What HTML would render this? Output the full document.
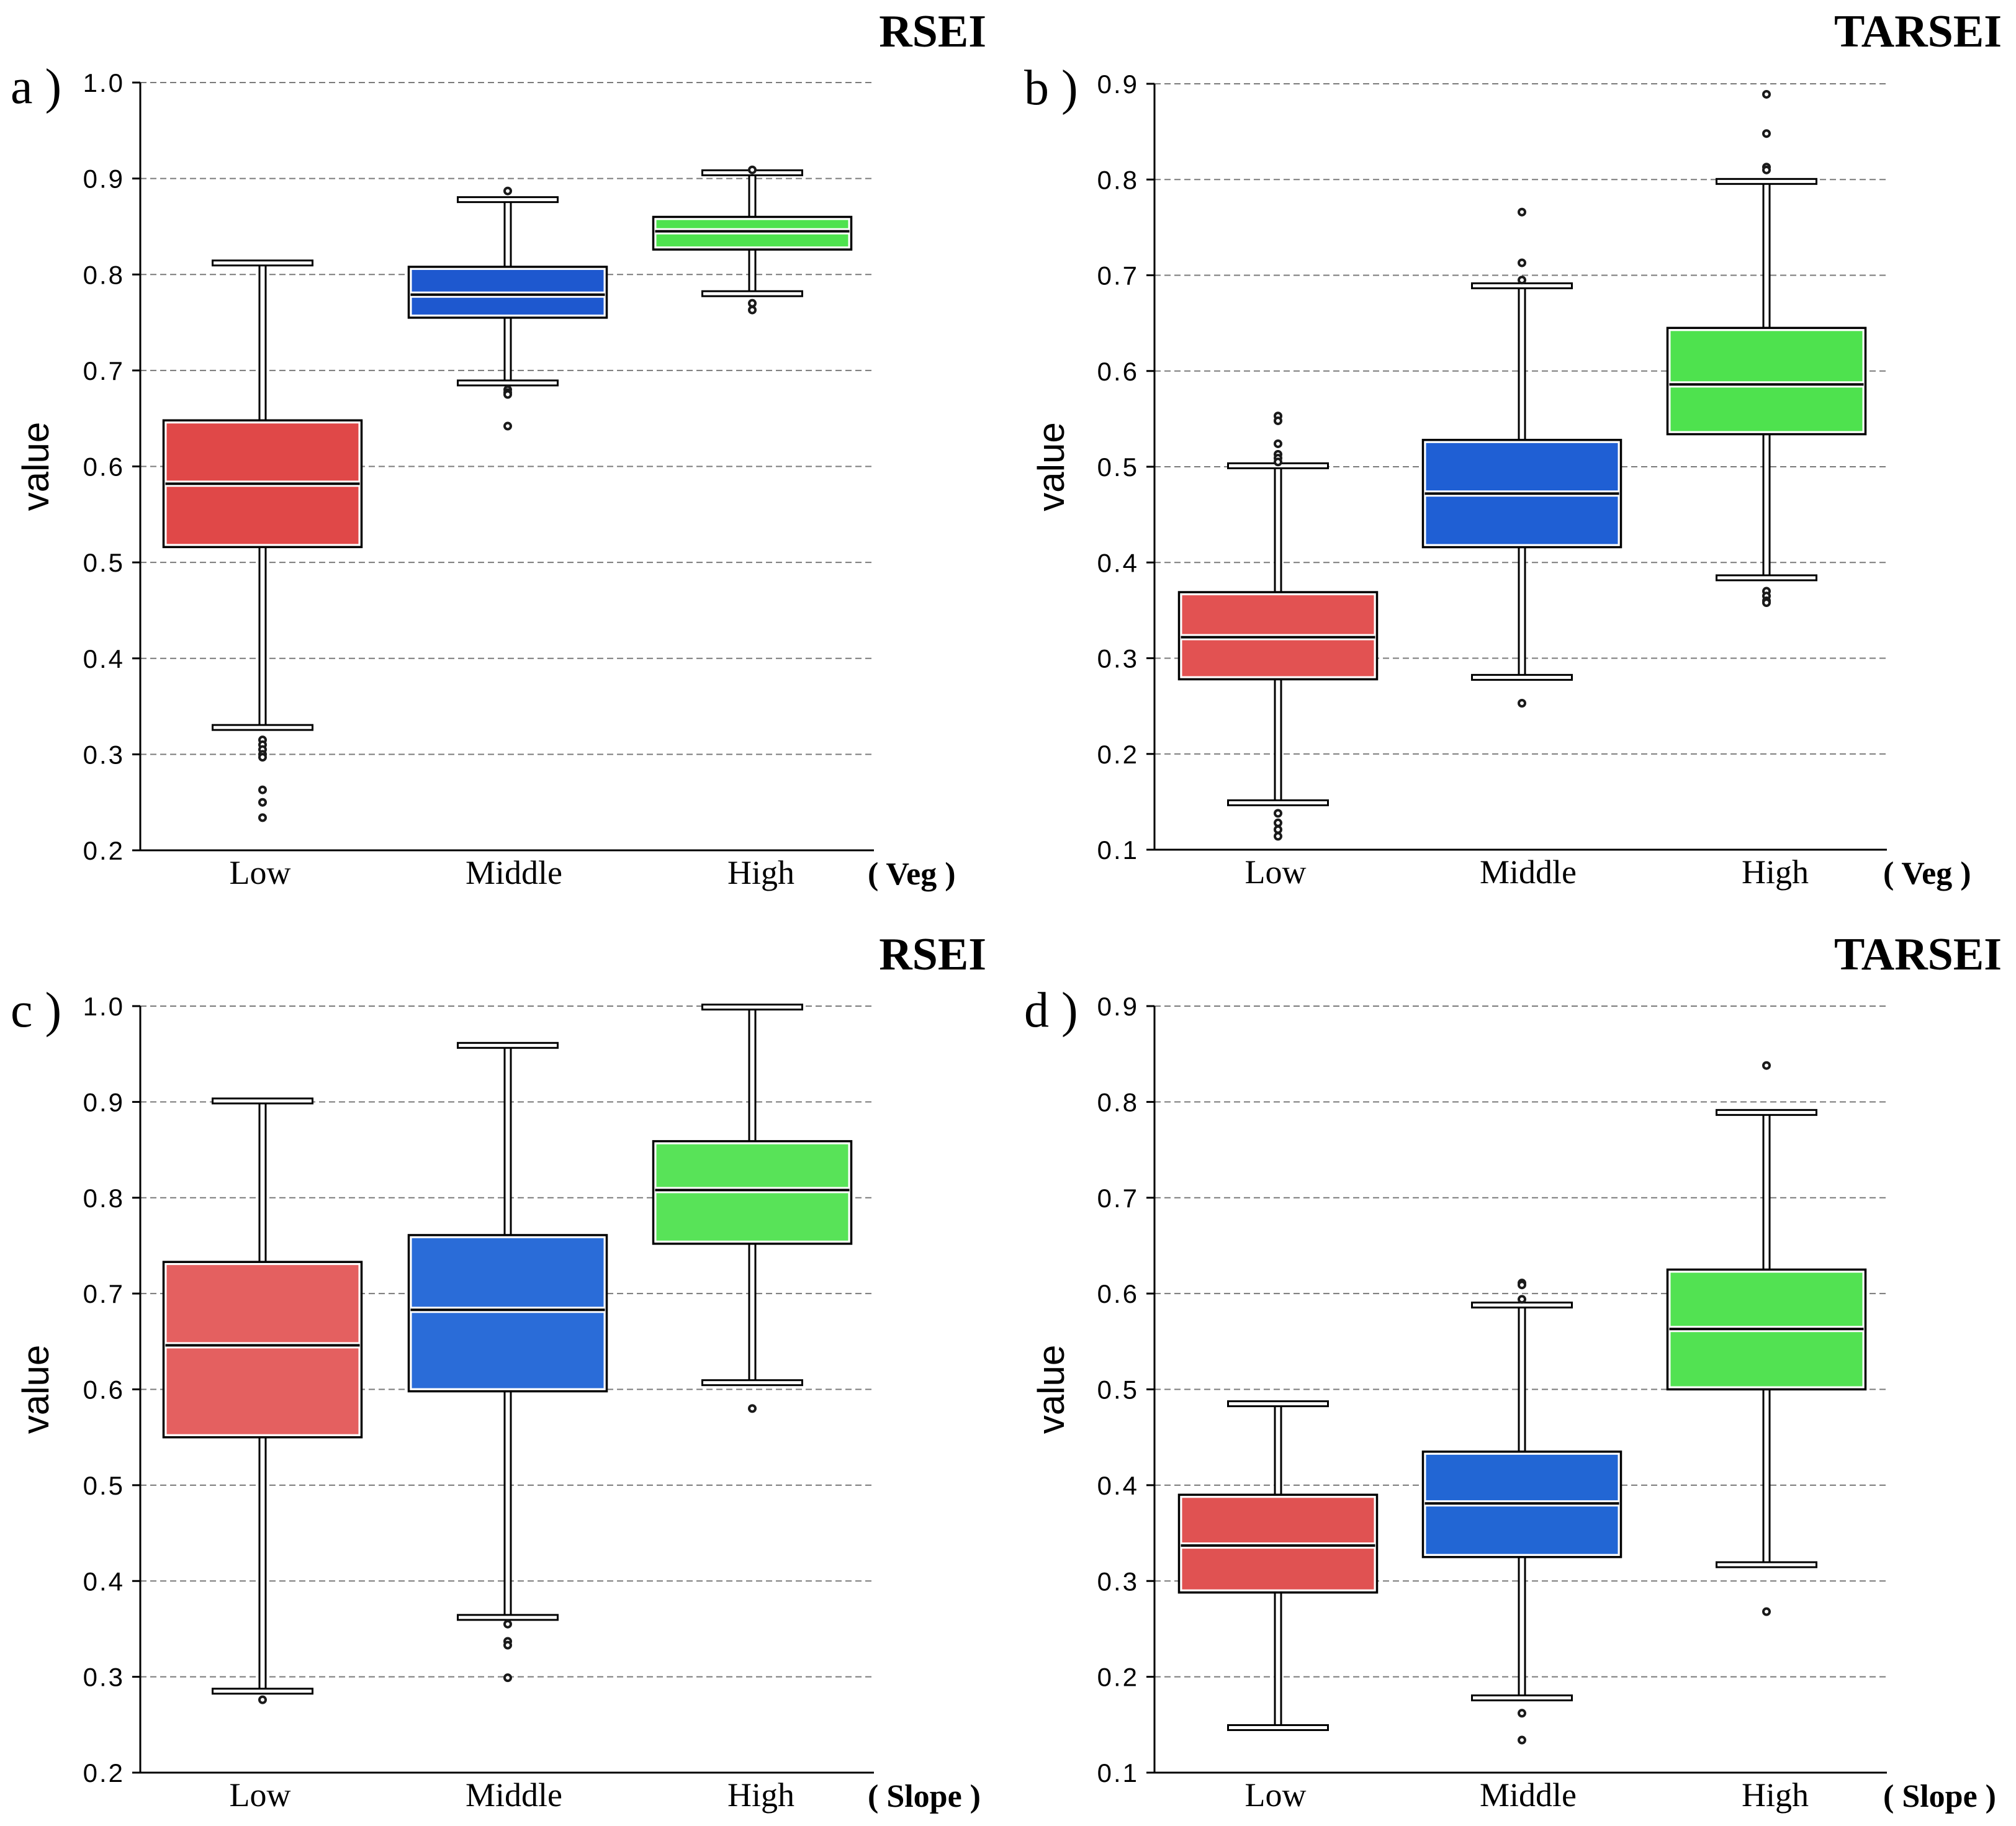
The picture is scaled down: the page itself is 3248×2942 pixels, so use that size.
<!DOCTYPE html>
<html><head><meta charset="utf-8">
<style>
html,body{margin:0;padding:0;background:#fff;}
svg{display:block;}
</style></head>
<body>
<svg id="chart" width="3248" height="2942" viewBox="0 0 3248 2942" xmlns="http://www.w3.org/2000/svg"></svg>
<script>
// ---- data ----
const categories = ["Low", "Middle", "High"];
// panel a: RSEI by Veg  [whiskerLow, Q1, median, Q3, whiskerHigh]
const statsA = [[0.328,0.516,0.582,0.648,0.812],[0.687,0.755,0.779,0.808,0.878],[0.780,0.826,0.845,0.860,0.906]];
const outliersA = [[0.315,0.310,0.305,0.300,0.297,0.263,0.250,0.234],[0.887,0.680,0.677,0.675,0.642],[0.909,0.770,0.763]];
// panel b: TARSEI by Veg
const statsB = [[0.149,0.278,0.322,0.369,0.501],[0.280,0.416,0.472,0.528,0.689],[0.384,0.534,0.586,0.645,0.798]];
const outliersB = [[0.553,0.548,0.524,0.513,0.509,0.505,0.138,0.128,0.121,0.114],[0.766,0.713,0.695,0.253],[0.889,0.848,0.813,0.810,0.370,0.365,0.360,0.358]];
// panel c: RSEI by Slope
const statsC = [[0.285,0.550,0.646,0.733,0.901],[0.362,0.598,0.683,0.761,0.959],[0.607,0.752,0.808,0.859,0.999]];
const outliersC = [[0.276],[0.355,0.337,0.333,0.299],[0.580]];
// panel d: TARSEI by Slope
const statsD = [[0.147,0.288,0.337,0.390,0.485],[0.178,0.325,0.381,0.435,0.588],[0.317,0.500,0.563,0.625,0.789]];
const outliersD = [[],[0.611,0.609,0.594,0.162,0.134],[0.838,0.268]];
const ticksRSEI = ["0.2","0.3","0.4","0.5","0.6","0.7","0.8","0.9","1.0"];
const ticksTARSEI = ["0.1","0.2","0.3","0.4","0.5","0.6","0.7","0.8","0.9"];

const NS="http://www.w3.org/2000/svg";
const svg=document.getElementById('chart');
function mk(tag,attrs,parent,text){const e=document.createElementNS(NS,tag);for(const k in attrs)e.setAttribute(k,attrs[k]);if(text!==undefined)e.textContent=text;(parent||svg).appendChild(e);return e;}

const labelShift=[-4,10,14];
const panels=[
 {id:'a',title:'RSEI',xl:'( Veg )',stats:statsA,outs:outliersA,ticks:ticksRSEI,x0:226,x1:1408,yTop:133,yBot:1370,cx:[423,818,1212],colors:['#e04848','#1e58cf','#4ee24e'],lab:17,titleR:1589,titleY:75,xlX:1398,valX:62},
 {id:'b',title:'TARSEI',xl:'( Veg )',stats:statsB,outs:outliersB,ticks:ticksTARSEI,x0:1860,x1:3040,yTop:135,yBot:1369,cx:[2059,2452,2846],colors:['#e25252','#1f5fd4','#4ee24e'],lab:1650,titleR:3225,titleY:75,xlX:3034,valX:1698},
 {id:'c',title:'RSEI',xl:'( Slope )',stats:statsC,outs:outliersC,ticks:ticksRSEI,x0:226,x1:1408,yTop:1621,yBot:2856,cx:[423,818,1212],colors:['#e46060','#2a6cd8','#58e358'],lab:17,titleR:1589,titleY:1562,xlX:1398,valX:62},
 {id:'d',title:'TARSEI',xl:'( Slope )',stats:statsD,outs:outliersD,ticks:ticksTARSEI,x0:1860,x1:3040,yTop:1621,yBot:2856,cx:[2059,2452,2846],colors:['#e05252','#2266d4','#52e252'],lab:1650,titleR:3225,titleY:1562,xlX:3034,valX:1698}
];

panels.forEach(p=>{
  const g=mk('g',{});
  
  
  const tmin=parseFloat(p.ticks[0]),tmax=parseFloat(p.ticks[p.ticks.length-1]);
  const y=v=>p.yBot-(v-tmin)/(tmax-tmin)*(p.yBot-p.yTop);
  p.ticks.forEach(t=>{
    const yy=y(parseFloat(t));
    if(parseFloat(t)>tmin){
      const gl=mk('line',{x1:p.x0,x2:p.x1,y1:yy,y2:yy,stroke:'#7a7a7a','stroke-width':2,'stroke-dasharray':'10,6'},g);
      
      
    }
    mk('line',{x1:p.x0-13,x2:p.x0,y1:yy,y2:yy,stroke:'#000','stroke-width':3},g);
    const tl=mk('text',{x:p.x0-25,y:yy+15,'text-anchor':'end','font-family':'Liberation Sans, sans-serif','font-size':42,fill:'#000','letter-spacing':'3'},g,t);
    
    
  });
  const ya=mk('line',{x1:p.x0,x2:p.x0,y1:p.yTop,y2:p.yBot,stroke:'#000','stroke-width':3},g);
  
  
  const xa=mk('line',{x1:p.x0-13,x2:p.x1,y1:p.yBot,y2:p.yBot,stroke:'#000','stroke-width':3},g);
  
  
  const bw=319,cw=161;
  p.stats.forEach((s,i)=>{
    const cx=p.cx[i];
    const bg=mk('g',{},g);
    
    
    [[s[3],s[4]],[s[0],s[1]]].forEach(([a,b])=>{
      mk('rect',{x:cx-5,y:y(b),width:10,height:y(a)-y(b),fill:'#fff',stroke:'#000','stroke-width':3},bg);
    });
    [s[0],s[4]].forEach(v=>{
      mk('rect',{x:cx-cw/2,y:y(v)-4,width:cw,height:8,fill:'#fff',stroke:'#000','stroke-width':3},bg);
    });
    mk('rect',{x:cx-bw/2,y:y(s[3]),width:bw,height:y(s[1])-y(s[3]),fill:'#fff',stroke:'#000','stroke-width':3.5},bg);
    mk('rect',{x:cx-bw/2+5,y:y(s[3])+5,width:bw-10,height:y(s[1])-y(s[3])-10,fill:p.colors[i]},bg);
    const my=y(s[2]);
    mk('rect',{x:cx-bw/2+3,y:my-5,width:bw-6,height:10,fill:'#fff'},bg);
    const md=mk('line',{x1:cx-bw/2+3,x2:cx+bw/2-3,y1:my,y2:my,stroke:'#000','stroke-width':4},bg);
    
    
    p.outs[i].forEach(v=>{
      const o=mk('circle',{cx:cx,cy:y(v),r:5,fill:'#fff',stroke:'#1a1a1a','stroke-width':4},bg);
      
      
    });
    const cl=mk('text',{x:cx+labelShift[i],y:p.yBot+54,'text-anchor':'middle','font-family':'Liberation Serif, serif','font-size':54,fill:'#000'},g,categories[i]);
    
    
  });
  const xl=mk('text',{x:p.xlX,y:p.yBot+55,'font-family':'Liberation Serif, serif','font-size':52,'font-weight':'bold',fill:'#000'},g,p.xl);
  
  
  const tt=mk('text',{x:p.titleR,y:p.titleY,'text-anchor':'end','font-family':'Liberation Serif, serif','font-size':74,'font-weight':'bold',fill:'#000'},g,p.title);
  
  
  const pl=mk('text',{x:p.lab,y:p.yTop+33,'font-family':'Liberation Serif, serif','font-size':80,fill:'#000'},g,p.id+' )');
  
  
  const vy=(p.yTop+p.yBot)/2;
  const vl=mk('text',{x:p.valX,y:vy,'text-anchor':'middle','font-family':'Liberation Sans, sans-serif','font-size':60,fill:'#000',transform:'rotate(-90 '+p.valX+' '+vy+')','dominant-baseline':'middle'},g,'value');
  
  
});
</script>
</body></html>
